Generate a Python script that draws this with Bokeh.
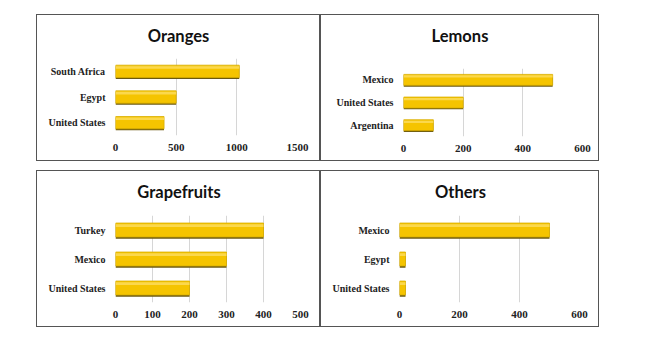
from bokeh.plotting import figure
from bokeh.layouts import column, row, Spacer
from bokeh.models import Range1d, FactorRange, FixedTicker
from bokeh.transform import dodge
from bokeh.embed import file_html
from bokeh.resources import INLINE

# ---- data ----
oranges_cats = ["South Africa", "Egypt", "United States"]
oranges_vals = [1020, 500, 400]
oranges_ticks = [0, 500, 1000, 1500]

lemons_cats = ["Mexico", "United States", "Argentina"]
lemons_vals = [500, 200, 100]
lemons_ticks = [0, 200, 400, 600]

grape_cats = ["Turkey", "Mexico", "United States"]
grape_vals = [400, 300, 200]
grape_ticks = [0, 100, 200, 300, 400, 500]

others_cats = ["Mexico", "Egypt", "United States"]
others_vals = [500, 20, 20]
others_ticks = [0, 200, 400, 600]


def panel(title, cats, vals, ticks, w, h, bl, br, bt, bb, shift):
    p = figure(width=w, height=h, output_backend="svg", toolbar_location=None,
               x_range=Range1d(0, ticks[-1]), y_range=FactorRange(*cats[::-1]),
               title=title, min_border_left=bl, min_border_right=br,
               min_border_top=bt, min_border_bottom=bb)
    p.styles = {"border": "1px solid #555555"}
    p.outline_line_color = None
    p.background_fill_color = "white"
    p.border_fill_color = "white"
    p.title.align = "center"
    p.title.vertical_align = "top"
    p.title.text_font = "Lato"
    p.title.text_font_style = "bold"
    p.title.text_font_size = "16.5px"
    p.title.text_color = "#111111"
    p.title.standoff = 0
    # (left, right, top, bottom): centre the title over the whole panel
    p.title.padding = (0, 2 * shift, 8, bt - 32)
    p.ygrid.grid_line_color = None
    p.xgrid.grid_line_color = "#d6d6d6"
    p.xaxis.ticker = FixedTicker(ticks=ticks)
    for ax in (p.xaxis, p.yaxis):
        ax.axis_line_color = None
        ax.major_tick_line_color = None
        ax.minor_tick_line_color = None
        ax.major_tick_out = 0
        ax.major_tick_in = 0
        ax.minor_tick_out = 0
    p.xaxis.major_label_text_font = "Liberation Serif"
    p.xaxis.major_label_text_font_style = "bold"
    p.xaxis.major_label_text_font_size = "11px"
    p.xaxis.major_label_text_color = "#222222"
    p.xaxis.major_label_standoff = 8
    p.yaxis.major_label_text_font = "Liberation Serif"
    p.yaxis.major_label_text_font_style = "bold"
    p.yaxis.major_label_text_font_size = "10px"
    p.yaxis.major_label_text_color = "#222222"
    p.yaxis.major_label_standoff = 10
    data = dict(cat=cats, val=vals)
    p.hbar(y=dodge("cat", -0.05, range=p.y_range), right="val", left=0, height=0.5,
           source=data, fill_color="#6b5a12", line_color=None)
    p.hbar(y="cat", right="val", left=0, height=0.48, source=data,
           fill_color="#F5C400", line_color="#D9AE00", line_width=0.8)
    p.hbar(y=dodge("cat", 0.15, range=p.y_range), right="val", left=0, height=0.1,
           source=data, fill_color="#FBD84C", line_color=None)
    return p


p1 = panel("Oranges", oranges_cats, oranges_vals, oranges_ticks, 284, 147, 78, 24, 43, 27, 28)
p2 = panel("Lemons", lemons_cats, lemons_vals, lemons_ticks, 279, 147, 82, 18, 53, 26, 33)
p3 = panel("Grapefruits", grape_cats, grape_vals, grape_ticks, 284, 157, 78, 21, 44, 26, 29)
p4 = panel("Others", others_cats, others_vals, others_ticks, 279, 157, 78, 21, 44, 26, 29)

lay = column(Spacer(height=14),
             row(Spacer(width=36), column(p1), column(p2)),
             Spacer(height=9),
             row(Spacer(width=36), column(p3), column(p4)))

open("out.html", "w").write(file_html(lay, INLINE))
